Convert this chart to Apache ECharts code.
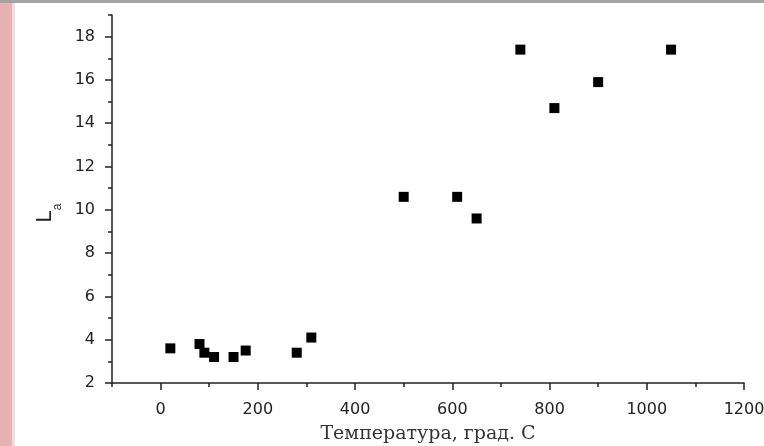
<!DOCTYPE html>
<html><head><meta charset="utf-8">
<script src="https://cdn.jsdelivr.net/npm/echarts@6/dist/echarts.min.js"></script>
<style>html,body{margin:0;padding:0;background:#fff}#c{width:764px;height:446px}</style>
</head><body><div id="c"></div>
<script>
const temps = [20, 80, 90, 110, 150, 175, 280, 310, 500, 610, 650, 740, 810, 900, 1050];
const laValues = [3.6, 3.8, 3.4, 3.2, 3.2, 3.5, 3.4, 4.1, 10.6, 10.6, 9.6, 17.4, 14.7, 15.9, 17.4];
const xMajorTicks = [0, 200, 400, 600, 800, 1000, 1200];
const xMinorTicks = [-100, 100, 300, 500, 700, 900, 1100];
const yMajorTicks = [2, 4, 6, 8, 10, 12, 14, 16, 18];
const yMinorTicks = [3, 5, 7, 9, 11, 13, 15, 17, 19];
const xTitle = 'Температура, град. С';

const chart = echarts.init(document.getElementById('c'));
const axisColor = '#222';
const grid = {left: 112, right: 20, top: 15, bottom: 63, outerBoundsMode: 'none', containLabel: false};
chart.setOption({
  animation: false,
  graphic: [
    {type: 'rect', shape: {x: 0, y: 0, width: 764, height: 3}, style: {fill: '#a3a3a3'}},
    {type: 'rect', shape: {x: 0, y: 3, width: 12, height: 443}, style: {fill: '#e4b2b2'}},
    {type: 'rect', shape: {x: 12, y: 3, width: 3, height: 443}, style: {fill: '#f3dcdc'}}
  ],
  grid: grid,
  xAxis: [{
    type: 'value', min: -100, max: 1200,
    splitLine: {show: false},
    axisLine: {onZero: false, lineStyle: {color: axisColor, width: 1.5}},
    axisTick: {customValues: xMajorTicks, length: 7, lineStyle: {color: axisColor, width: 1.5}},
    axisLabel: {customValues: xMajorTicks, margin: 19, color: '#222', fontFamily: 'DejaVu Sans', fontSize: 16,
      formatter: v => String(v)},
    name: xTitle, nameLocation: 'middle', nameGap: 42,
    nameTextStyle: {fontFamily: 'DejaVu Serif', fontSize: 19, color: '#333'}
  }, {
    type: 'value', min: -100, max: 1200, position: 'bottom',
    splitLine: {show: false},
    axisLine: {show: false, onZero: false},
    axisTick: {customValues: xMinorTicks, length: 4, lineStyle: {color: axisColor, width: 1.5}},
    axisLabel: {show: false}
  }],
  yAxis: [{
    type: 'value', min: 2, max: 19,
    splitLine: {show: false},
    axisLine: {onZero: false, lineStyle: {color: axisColor, width: 1.5}},
    axisTick: {customValues: yMajorTicks, length: 7, lineStyle: {color: axisColor, width: 1.5}},
    axisLabel: {customValues: yMajorTicks, margin: 17, color: '#222', fontFamily: 'DejaVu Sans', fontSize: 16,
      formatter: v => String(v)},
    name: '{L|L}{a|a}', nameLocation: 'middle', nameGap: 47, nameRotate: 90,
    nameTextStyle: {
      color: '#333',
      padding: [0, 28, 0, 0],
      rich: {
        L: {fontFamily: 'Liberation Sans', fontSize: 22, color: '#222', padding: [0, 0, 8, 0]},
        a: {fontFamily: 'Liberation Sans', fontSize: 12, color: '#333', verticalAlign: 'bottom'}
      }
    }
  }, {
    type: 'value', min: 2, max: 19, position: 'left',
    splitLine: {show: false},
    axisLine: {show: false, onZero: false},
    axisTick: {customValues: yMinorTicks, length: 4, lineStyle: {color: axisColor, width: 1.5}},
    axisLabel: {show: false}
  }],
  series: [{
    type: 'scatter',
    xAxisIndex: 0, yAxisIndex: 0,
    symbol: 'rect', symbolSize: 10,
    itemStyle: {color: '#000', opacity: 1},
    data: temps.map((t, i) => [t, laValues[i]])
  }]
});
</script></body></html>
